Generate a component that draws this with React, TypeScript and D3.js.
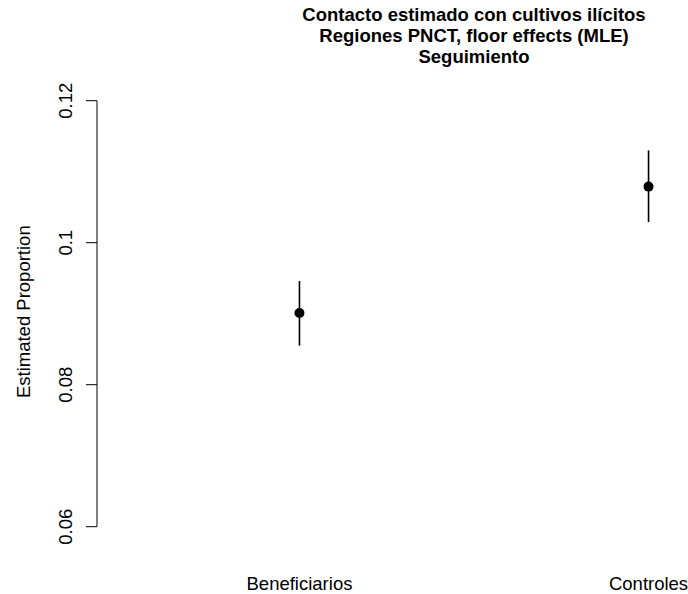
import React from "react";
import * as d3 from "d3";

const categories = ["Beneficiarios", "Controles"];
const estimates = [0.0901, 0.1079];
const lowers = [0.0855, 0.1029];
const uppers = [0.0946, 0.1130];
const yTicks = [0.06, 0.08, 0.1, 0.12];
const yTickLabels = ["0.06", "0.08", "0.1", "0.12"];
const titleLines = [
  "Contacto estimado con cultivos ilícitos",
  "Regiones PNCT, floor effects (MLE)",
  "Seguimiento",
];
const yLabel = "Estimated Proportion";

const W = 688;
const H = 594;
const FONT = "'Liberation Sans', Arial, Helvetica, sans-serif";

export default function App() {
  const x = d3.scaleLinear().domain([0.42, 2.58]).range([97, 851]);
  const y = d3.scaleLinear().domain([0.06, 0.12]).range([526.7, 100.7]);
  const axisX = 97;
  const titleX = (x.range()[0] + x.range()[1]) / 2;

  return (
    <svg
      width={W}
      height={H}
      style={{ position: "absolute", left: 0, top: 0, background: "#fff" }}
      fontFamily={FONT}
    >
      <rect width={W} height={H} fill="#fff" />
      {titleLines.map((t, i) => (
        <text
          key={i}
          x={titleX}
          y={21 + i * 21}
          textAnchor="middle"
          fontWeight="bold"
          fontSize={18.5}
          fill="#000"
        >
          {t}
        </text>
      ))}
      {/* y axis */}
      <line
        x1={axisX}
        x2={axisX}
        y1={y(0.06)}
        y2={y(0.12)}
        stroke="#000"
        strokeWidth={1}
      />
      {yTicks.map((v, i) => (
        <g key={i}>
          <line
            x1={axisX - 11}
            x2={axisX}
            y1={y(v)}
            y2={y(v)}
            stroke="#000"
            strokeWidth={1}
          />
          <text
            transform={`translate(65,${y(v)}) rotate(-90)`}
            textAnchor="middle"
            dominantBaseline="central"
            fontSize={18.5}
            fill="#000"
          >
            {yTickLabels[i]}
          </text>
        </g>
      ))}
      <text
        transform={`translate(23,${(y(0.06) + y(0.12)) / 2 - 2}) rotate(-90)`}
        textAnchor="middle"
        dominantBaseline="central"
        fontSize={18.5}
        fill="#000"
      >
        {yLabel}
      </text>
      {/* error bars and points */}
      {categories.map((c, i) => (
        <g key={c}>
          <line
            x1={x(i + 1)}
            x2={x(i + 1)}
            y1={y(lowers[i])}
            y2={y(uppers[i])}
            stroke="#000"
            strokeWidth={1.6}
          />
          <circle cx={x(i + 1)} cy={y(estimates[i])} r={5} fill="#000" />
          <text
            x={x(i + 1)}
            y={590}
            textAnchor="middle"
            fontSize={18.5}
            fill="#000"
          >
            {c}
          </text>
        </g>
      ))}
    </svg>
  );
}
